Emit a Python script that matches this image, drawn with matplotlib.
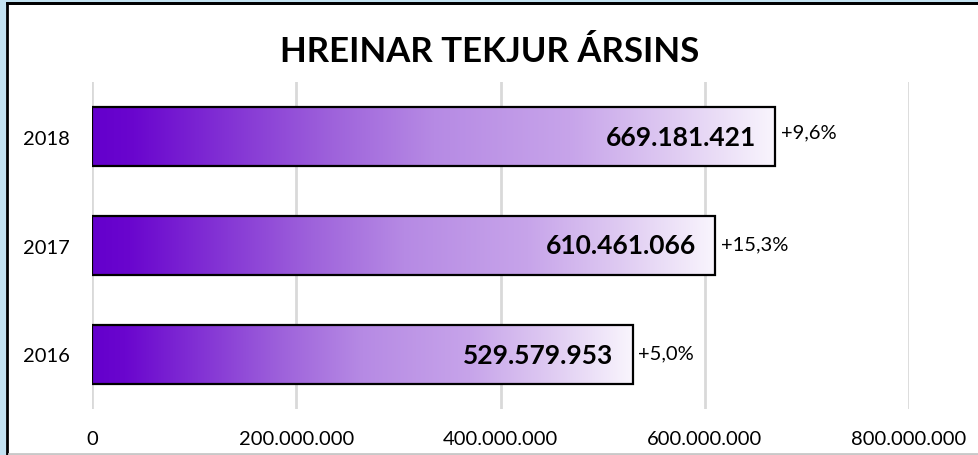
import matplotlib
matplotlib.use("Agg")
import matplotlib.pyplot as plt
import numpy as np
from matplotlib.colors import LinearSegmentedColormap
from matplotlib.patches import Rectangle
from matplotlib.lines import Line2D
from matplotlib.ticker import FuncFormatter

years = ["2016", "2017", "2018"]
values = [529579953, 610461066, 669181421]
changes = ["+5,0%", "+15,3%", "+9,6%"]
title = "HREINAR TEKJUR ÁRSINS"
xticks = [0, 200000000, 400000000, 600000000, 800000000]

plt.rcParams['font.family'] = ['Lato', 'DejaVu Sans']

fig = plt.figure(figsize=(9.79, 4.56), dpi=100)
fig.patch.set_facecolor('#c3e2f1')
W, H = 979, 456
# white frame with black border
frame = Rectangle((7.5 / W, 1 - 455.5 / H), 1.2, (455.5 - 4.0) / H,
                  transform=fig.transFigure, facecolor='white',
                  edgecolor='black', linewidth=2.0, zorder=-10)
fig.patches.append(frame)
fig.lines.append(Line2D([7.5 / W, 1], [1 - 4.0 / H, 1 - 4.0 / H],
                        transform=fig.transFigure, color='black', lw=2.0, zorder=5))
fig.lines.append(Line2D([8.8 / W, 1], [1 - 455.3 / H, 1 - 455.3 / H],
                        transform=fig.transFigure, color='#c8c8c8', lw=2.0, zorder=5))

ax = fig.add_axes([92 / W, 1 - 410 / H, (909 - 92) / W, (410 - 83) / H])
ax.set_facecolor('none')

cmap = LinearSegmentedColormap.from_list('grad', [
    (0.0, '#6400cc'), (0.06, '#6a06ce'), (0.35, '#9e62db'),
    (0.5, '#b68ae4'), (0.7, '#c7a4ea'), (0.85, '#dfcbf2'), (1.0, '#f9f5fd')])

grad = np.linspace(0, 1, 256).reshape(1, -1)
bh = 0.55
bars = ax.barh(range(len(years)), values, height=bh, facecolor='none',
               edgecolor='black', linewidth=1.6, zorder=3)
for i, (b, v) in enumerate(zip(bars, values)):
    im = ax.imshow(grad, cmap=cmap, aspect='auto',
                   extent=[0, v, i - bh / 2, i + bh / 2], zorder=2,
                   interpolation='bilinear')
    im.set_clip_path(b)
ax.set_xlim(0, 800000000)
ax.set_ylim(-0.5, 2.5)

for i, v in enumerate(values):
    ax.annotate(f"{v:,}".replace(",", "."), (v, i), xytext=(-14, 0),
                textcoords='offset points', ha='right', va='center',
                fontsize=19, fontweight='bold', color='black', zorder=5)
    ax.annotate(changes[i], (v, i), xytext=(4, 3 if i == 2 else 1),
                textcoords='offset points', ha='left', va='center',
                fontsize=14.5, color='black', zorder=5)

ax.set_xticks(xticks)
ax.xaxis.set_major_formatter(FuncFormatter(lambda x, p: f"{int(x):,}".replace(",", ".")))
ax.set_yticks(range(len(years)))
ax.set_yticklabels(years)
ax.tick_params(axis='both', length=0, labelsize=14.5)
ax.tick_params(axis='x', pad=15)
ax.tick_params(axis='y', pad=16)
ax.grid(axis='x', color='#d9d9d9', linewidth=2, zorder=0)
ax.set_axisbelow(True)
for s in ax.spines.values():
    s.set_visible(False)

fig.text(0.5, 1 - 52 / H, title, ha='center', va='center',
         fontsize=25, fontweight='bold')

fig.savefig('out.png', dpi=100, facecolor=fig.get_facecolor())
